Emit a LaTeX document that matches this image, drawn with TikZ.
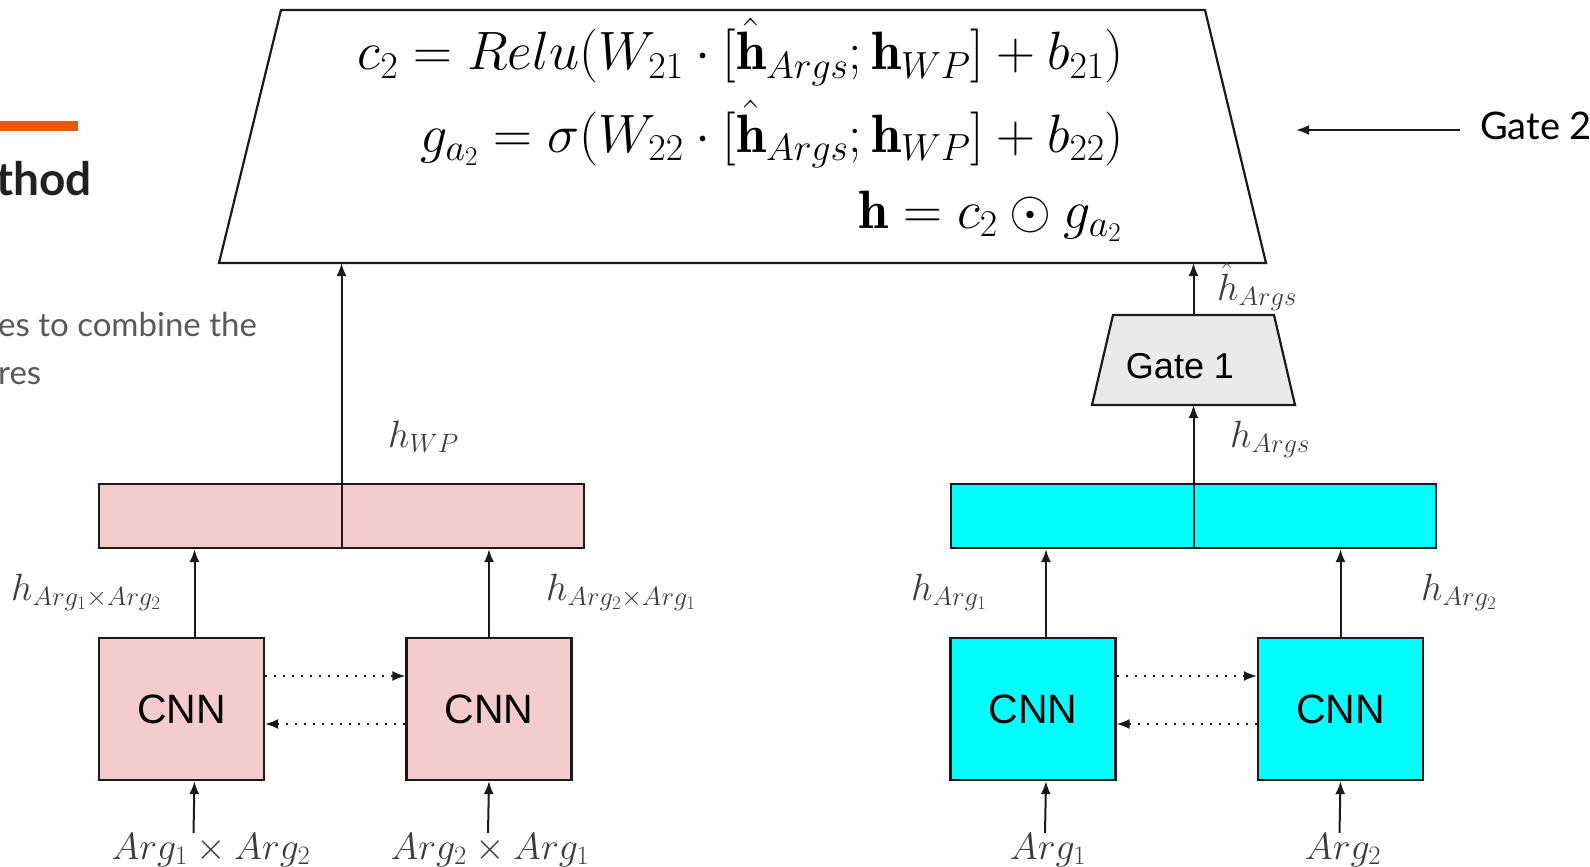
\RequirePackage{fix-cm}
\documentclass[tikz,border=0pt]{standalone}
\usepackage{fontspec}
\newfontfamily\lato{Lato}
\newfontfamily\arialf{Liberation Sans}
\usetikzlibrary{arrows.meta,calc}
\definecolor{orng}{HTML}{E8580C}
\definecolor{pinkf}{HTML}{F4CCCC}
\definecolor{cyanf}{HTML}{00FFFF}
\definecolor{gatef}{HTML}{E8EAEB}
\definecolor{graytxt}{HTML}{595959}
\definecolor{titlec}{HTML}{212121}
\definecolor{lblc}{HTML}{3C3C3C}
\definecolor{linec}{HTML}{1A1A1A}
\begin{document}
\begin{tikzpicture}[x=1pt,y=-1pt,
  arr/.style={draw=linec,line width=2pt,-{Latex[length=13pt,width=10pt]}},
  dotarr/.style={draw=linec,line width=1.8pt,dash pattern=on 2pt off 7pt,-{Latex[length=13pt,width=10pt]}},
  cnnbox/.style={draw=linec,line width=2.2pt,minimum width=165pt,minimum height=142pt,inner sep=0,
     font=\arialf\fontsize{41}{45}\selectfont},
  barbox/.style={draw=linec,line width=2.2pt,minimum width=485pt,minimum height=64pt,inner sep=0},
  trap/.style={draw=linec,line width=2.2pt,line join=miter},
  lbl/.style={inner sep=0,text=lblc,font=\fontsize{38}{40}\selectfont},
  eqn/.style={inner sep=0,text=black,font=\fontsize{54}{60}\selectfont},
  slide/.style={inner sep=0,font=\lato\fontsize{33}{40}\selectfont,text=graytxt}]
\useasboundingbox (0,0) rectangle (1590,867);
\clip (0,0) rectangle (1590,867);

% slide remnants
\fill[orng] (0,121) rectangle (78,131);
\node[anchor=base east,inner sep=0,text=titlec,font=\lato\bfseries\fontsize{46}{50}\selectfont] (ttl) at (92,195) {thod};
\node[slide,anchor=base west] (bt1) at (-2,336) {es to combine the};
\node[slide,anchor=base west] (bt2) at (-2,384) {res};

% Gate 2 trapezium
\coordinate (BTL) at (281,10);
\coordinate (BTR) at (1205,10);
\coordinate (BBR) at (1266,263);
\coordinate (BBL) at (219,263);
\draw[trap] (BTL) -- (BTR) -- (BBR) -- (BBL) -- cycle;
\node[eqn,anchor=base east] (e1) at (1124,70) {$c_2 = Relu(W_{21}\cdot[\hat{\mathbf{h}}_{Args};\mathbf{h}_{WP}]+b_{21})$};
\node[eqn,anchor=base east] (e2) at (1124,152) {$g_{a_2} = \sigma(W_{22}\cdot[\hat{\mathbf{h}}_{Args};\mathbf{h}_{WP}]+b_{22})$};
\node[eqn,anchor=base east] (e3) at (1122,228) {$\mathbf{h} = c_2\odot g_{a_2}$};

\node[anchor=base west,inner sep=0,font=\lato\fontsize{38}{40}\selectfont,text=black] (g2) at (1480,139) {Gate 2};
\coordinate (g2end) at (1296,130);
\draw[arr] ([xshift=-20pt]g2.west |- g2end) -- (g2end);

% Gate 1
\coordinate (GTL) at (1113,315);
\coordinate (GTR) at (1274,315);
\coordinate (GBR) at (1295,405);
\coordinate (GBL) at (1092,405);
\draw[trap,fill=gatef] (GTL) -- (GTR) -- (GBR) -- (GBL) -- cycle;
\node[anchor=base,inner sep=0,font=\arialf\fontsize{36}{40}\selectfont] (g1t) at (1180,378) {Gate 1};

% bars
\node[barbox,fill=pinkf] (wpbar) at (341.5,516) {};
\draw[linec,line width=2pt] (wpbar.north) -- (wpbar.south);
\node[barbox,fill=cyanf] (cybar) at (1193.5,516) {};
\draw[linec,line width=2pt] (cybar.north) -- (cybar.south);

% CNN boxes
\node[cnnbox,fill=pinkf] (b1) at (181.5,709) {CNN};
\node[cnnbox,fill=pinkf] (b2) at (489,709) {CNN};
\node[cnnbox,fill=cyanf] (b3) at (1033,709) {CNN};
\node[cnnbox,fill=cyanf] (b4) at (1340.5,709) {CNN};

% dotted
\draw[dotarr] ([yshift=33pt]b1.east) -- ([yshift=33pt]b2.west);
\draw[dotarr] ([yshift=-15pt]b2.west) -- ([yshift=-15pt]b1.east);
\draw[dotarr] ([yshift=33pt]b3.east) -- ([yshift=33pt]b4.west);
\draw[dotarr] ([yshift=-15pt]b4.west) -- ([yshift=-15pt]b3.east);

% up arrows to bars
\draw[arr] ([xshift=13pt]b1.north) -- ([xshift=13pt]b1.north |- wpbar.south);
\draw[arr] (b2.north) -- (b2.north |- wpbar.south);
\draw[arr] ([xshift=13pt]b3.north) -- ([xshift=13pt]b3.north |- cybar.south);
\draw[arr] (b4.north) -- (b4.north |- cybar.south);

% bars to top
\draw[arr] (wpbar.north) -- (wpbar.north |- BBL);
\draw[arr] (cybar.north) -- (cybar.north |- GBL);
\draw[arr] (cybar.north |- GTL) -- (cybar.north |- BBL);

% labels
\node[lbl,anchor=base west] (lwp) at (388,447) {$h_{WP}$};
\node[lbl,anchor=base west] (lhat) at (1217,300) {$\hat{h}_{Args}$};
\node[lbl,anchor=base west] (largs) at (1230,447) {$h_{Args}$};
\node[lbl,anchor=base west] (l12) at (11,600) {$h_{Arg_1\times Arg_2}$};
\node[lbl,anchor=base west] (l21) at (546,600) {$h_{Arg_2\times Arg_1}$};
\node[lbl,anchor=base west] (la1) at (911,600) {$h_{Arg_1}$};
\node[lbl,anchor=base west] (la2) at (1421,600) {$h_{Arg_2}$};

% inputs
\node[lbl,anchor=base] (i1) at (211,859) {$Arg_1\times Arg_2$};
\node[lbl,anchor=base] (i2) at (490,859) {$Arg_2\times Arg_1$};
\node[lbl,anchor=base] (i3) at (1048,859) {$Arg_1$};
\node[lbl,anchor=base] (i4) at (1343,859) {$Arg_2$};
\draw[arr] ([xshift=12pt]b1.south |- i1.north) -- ([xshift=13pt]b1.south);
\draw[arr] ([xshift=-1pt]b2.south |- i2.north) -- (b2.south);
\draw[arr] ([xshift=12pt]b3.south |- i3.north) -- ([xshift=13pt]b3.south);
\draw[arr] ([xshift=-1pt]b4.south |- i4.north) -- (b4.south);
\end{tikzpicture}
\end{document}
